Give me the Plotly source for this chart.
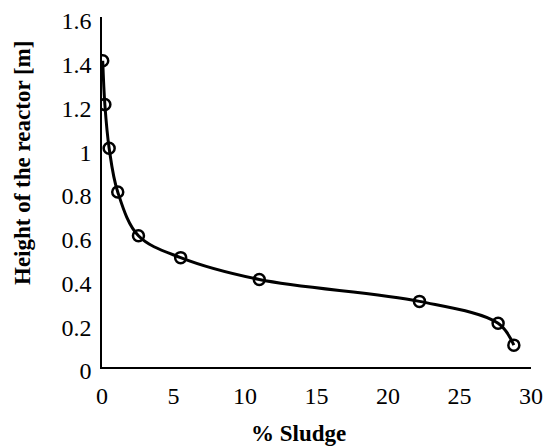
import plotly.graph_objects as go

sludge = [0.05, 0.2, 0.5, 1.1, 2.55, 5.5, 11.0, 22.2, 27.7, 28.8]
height = [1.4, 1.2, 1.0, 0.8, 0.6, 0.5, 0.4, 0.3, 0.2, 0.1]
x_ticks = [0, 5, 10, 15, 20, 25, 30]
y_ticks = [0, 0.2, 0.4, 0.6, 0.8, 1, 1.2, 1.4, 1.6]
y_labels = ["0", "0.2", "0.4", "0.6", "0.8", "1", "1.2", "1.4", "1.6"]
x_title = "% Sludge"
y_title = "Height of the reactor [m]"

font = "Liberation Serif"
L, R, T, B = 102, 15, 17, 81
W, H = 546, 448
pw, ph = W - L - R, H - T - B

fig = go.Figure()
fig.add_trace(go.Scatter(
    x=sludge, y=height, mode="lines+markers",
    line=dict(color="black", width=3, shape="spline", smoothing=1.0),
    marker=dict(symbol="circle-open", size=11, color="black", line=dict(width=2.5)),
    showlegend=False,
))

fig.add_annotation(text="<b>" + x_title + "</b>", xref="paper", yref="paper",
                   x=(298 - L) / pw, y=-(433 - (T + ph)) / ph, showarrow=False,
                   xanchor="center", yanchor="middle", borderpad=0,
                   font=dict(family=font, size=23))
fig.add_annotation(text="<b>" + y_title + "</b>", xref="paper", yref="paper",
                   x=(22 - L) / pw, y=((T + ph) - 163) / ph, showarrow=False, textangle=-90,
                   xanchor="center", yanchor="middle", borderpad=0,
                   font=dict(family=font, size=23))

fig.update_layout(
    width=W, height=H,
    margin=dict(l=L, r=R, t=T, b=B, autoexpand=False),
    paper_bgcolor="white", plot_bgcolor="white",
    font=dict(family=font, color="black", size=24),
    xaxis=dict(range=[0, 30], tickvals=x_ticks, showgrid=False, zeroline=False,
               showline=True, linecolor="black", linewidth=1.5, ticks="",
               ticklabelstandoff=6, tickfont=dict(family=font, size=24), automargin=False),
    yaxis=dict(range=[0, 1.6], tickvals=y_ticks, ticktext=y_labels, showgrid=False,
               zeroline=False, showline=True, linecolor="black", linewidth=1.5, ticks="",
               ticklabelstandoff=4, ticklabelshift=4, tickfont=dict(family=font, size=24),
               automargin=False),
)

fig.write_html("out.html")
